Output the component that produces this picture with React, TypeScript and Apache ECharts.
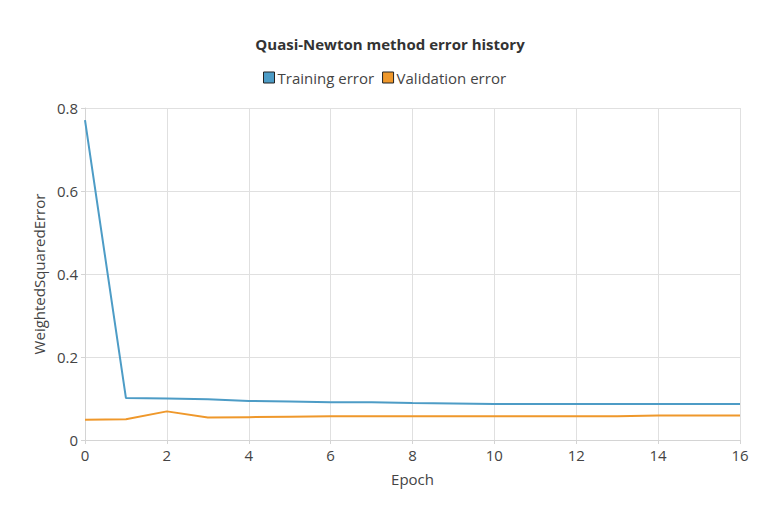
import * as echarts from "echarts"
import { useEffect, useRef } from "react"

const epochs = [0, 1, 2, 3, 4, 5, 6, 7, 8, 9, 10, 11, 12, 13, 14, 15, 16]
const trainingError = [0.771, 0.101, 0.1, 0.098, 0.094, 0.093, 0.091, 0.091, 0.089, 0.088, 0.087, 0.087, 0.087, 0.087, 0.087, 0.087, 0.087]
const validationError = [0.049, 0.05, 0.069, 0.054, 0.055, 0.056, 0.057, 0.057, 0.057, 0.057, 0.057, 0.057, 0.057, 0.057, 0.059, 0.059, 0.059]

const FONT = "'Open Sans', 'Noto Sans', sans-serif"

export default function App() {
  const chartRef = useRef<HTMLDivElement>(null)

  useEffect(() => {
    if (!chartRef.current) return
    const chart = echarts.init(chartRef.current, undefined, { renderer: "svg" })

    const option: echarts.EChartsOption = {
      animation: false,
      backgroundColor: "#fff",
      textStyle: { fontFamily: FONT },
      title: {
        text: "Quasi-Newton method error history",
        left: "center",
        top: 23,
        textStyle: { fontSize: 15, fontWeight: "bold", color: "#333", fontFamily: FONT },
      },
      legend: {
        top: 57,
        left: 250,
        itemWidth: 11,
        itemHeight: 11,
        itemGap: 8,
        icon: "rect",
        textStyle: { fontSize: 15, color: "#444", fontFamily: FONT, padding: [0, 0, 0, -2] },
        data: [
          { name: "Training error", itemStyle: { borderColor: "#222", borderWidth: 1 } },
          { name: "Validation error", itemStyle: { borderColor: "#222", borderWidth: 1 } },
        ],
      },
      grid: { left: 77, right: 32, top: 100, bottom: 72 },
      xAxis: {
        type: "value",
        min: 0,
        max: 16,
        interval: 2,
        name: "Epoch",
        nameLocation: "middle",
        nameGap: 31,
        nameTextStyle: { fontSize: 15, color: "#444" },
        axisLine: { show: true, lineStyle: { color: "#d4d4d4" } },
        axisTick: { show: true, length: 4, lineStyle: { color: "#d4d4d4" } },
        axisLabel: { fontSize: 15, color: "#444", margin: 7 },
        splitLine: { show: true, lineStyle: { color: "#e0e0e0" } },
      },
      yAxis: {
        type: "value",
        min: 0,
        max: 0.8,
        interval: 0.2,
        name: "WeightedSquaredError",
        nameLocation: "middle",
        nameGap: 37,
        nameTextStyle: { fontSize: 15, color: "#444" },
        axisLine: { show: true, lineStyle: { color: "#d4d4d4" } },
        axisTick: { show: true, length: 4, lineStyle: { color: "#d4d4d4" } },
        axisLabel: { fontSize: 15, color: "#444", margin: 7, formatter: (v: number) => (v === 0 ? "0" : String(Number(v.toFixed(1)))) },
        splitLine: { show: true, lineStyle: { color: "#e0e0e0" } },
      },
      series: [
        {
          name: "Training error",
          type: "line",
          showSymbol: false,
          color: "#4d9cc6",
          lineStyle: { width: 2 },
          data: epochs.map((e, i) => [e, trainingError[i]]),
        },
        {
          name: "Validation error",
          type: "line",
          showSymbol: false,
          color: "#ef982b",
          lineStyle: { width: 2 },
          data: epochs.map((e, i) => [e, validationError[i]]),
        },
      ],
    }

    chart.setOption(option)
    return () => chart.dispose()
  }, [])

  return <div ref={chartRef} style={{ width: 764, height: 504 }} />
}
